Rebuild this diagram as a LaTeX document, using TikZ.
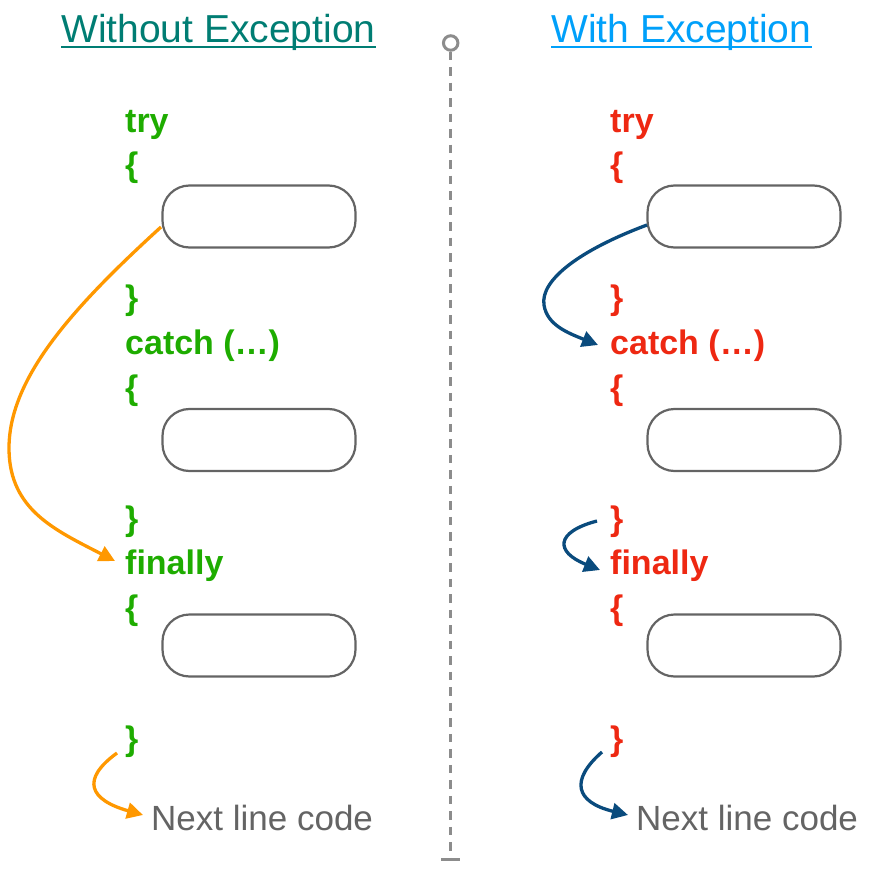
\documentclass[tikz,border=0pt]{standalone}
\usepackage{fontspec}
\setmainfont{Liberation Sans}
\usetikzlibrary{arrows.meta}
\definecolor{teal1}{RGB}{0,125,115}
\definecolor{skyb}{RGB}{0,160,250}
\definecolor{grn}{RGB}{30,172,0}
\definecolor{rd}{RGB}{238,40,18}
\definecolor{org}{RGB}{255,152,0}
\definecolor{navy}{RGB}{10,75,125}
\definecolor{dgray}{RGB}{100,100,100}
\definecolor{lgray}{RGB}{140,140,140}
\begin{document}
\begin{tikzpicture}[x=1pt,y=-1pt,
  title/.style={inner sep=0pt,anchor=base west,font=\fontsize{39}{44}\selectfont},
  codeL/.style={inner sep=0pt,anchor=base west,text=grn,font=\bfseries\fontsize{34}{40}\selectfont},
  codeR/.style={inner sep=0pt,anchor=base west,text=rd,font=\bfseries\fontsize{34}{40}\selectfont},
  nextln/.style={inner sep=0pt,anchor=base west,text=dgray,font=\fontsize{35}{40}\selectfont},
  blk/.style={draw=dgray,line width=2.2pt,rounded corners=27pt,minimum width=193pt,minimum height=62pt,inner sep=0pt},
  flowO/.style={draw=org,line width=3.3pt,-{Triangle[length=16pt,width=16pt]}},
  flowB/.style={draw=navy,line width=3.3pt,-{Triangle[length=16pt,width=16pt]}},
]
\useasboundingbox (0,0) rectangle (870,869);
% titles
\node[title,text=teal1] (tl) at (61,43) {Without Exception};
\draw[teal1,line width=2pt] ([yshift=-4pt]tl.base west) -- ([yshift=-4pt]tl.base east);
\node[title,text=skyb] (tr) at (551,43) {With Exception};
\draw[skyb,line width=2pt] ([yshift=-4pt]tr.base west) -- ([yshift=-4pt]tr.base east);
% divider
\node[draw=lgray,line width=3pt,circle,minimum size=14.5pt,inner sep=0pt] (dtop) at (450.7,43) {};
\coordinate (dbot) at (450.7,859.5);
\draw[lgray,line width=3.5pt,dash pattern=on 8.5pt off 7pt] (dtop.south) -- (dbot);
\draw[lgray,line width=3.5pt] ([xshift=-9.5pt]dbot) -- ([xshift=9.5pt]dbot);
% left column
\node[codeL] (tryL) at (125,133) {try};
\node[codeL] (ob1L) at (125,177) {\{};
\node[blk] (b1L) at (259,216.5) {};
\node[codeL] (cb1L) at (125,309) {\}};
\node[codeL] (catL) at (125,354) {catch (…)};
\node[codeL] (ob2L) at (125,399) {\{};
\node[blk] (b2L) at (259,440) {};
\node[codeL] (cb2L) at (125,530) {\}};
\node[codeL] (finL) at (125,574) {finally};
\node[codeL] (ob3L) at (125,619) {\{};
\node[blk] (b3L) at (259,645.5) {};
\node[codeL] (cb3L) at (125,750) {\}};
\node[nextln] (nxL) at (151,830) {Next line code};
% right column
\node[codeR] (tryR) at (610,133) {try};
\node[codeR] (ob1R) at (610,177) {\{};
\node[blk] (b1R) at (744,216.5) {};
\node[codeR] (cb1R) at (610,309) {\}};
\node[codeR] (catR) at (610,354) {catch (…)};
\node[codeR] (ob2R) at (610,399) {\{};
\node[blk] (b2R) at (744,440) {};
\node[codeR] (cb2R) at (610,530) {\}};
\node[codeR] (finR) at (610,574) {finally};
\node[codeR] (ob3R) at (610,619) {\{};
\node[blk] (b3R) at (744,645.5) {};
\node[codeR] (cb3R) at (610,750) {\}};
\node[nextln] (nxR) at (636,830) {Next line code};
% arrow endpoints
\coordinate (oS) at (161,227);
\coordinate (oM) at (9,450);
\coordinate (oE) at (115,561);
\coordinate (o2S) at (117,753);
\coordinate (o2E) at (143,815);
\coordinate (bS) at (647,225);
\coordinate (bM) at (544,305);
\coordinate (bE) at (598,345);
\coordinate (b2S) at (597,521);
\coordinate (b2E) at (600,570);
\coordinate (b3S) at (602,752);
\coordinate (b3E) at (628,815);
% arrows left
\draw[flowO] (oS) .. controls (70,310) and (8,380) .. (oM) .. controls (10,510) and (55,530) .. (oE);
\draw[flowO] (o2S) .. controls (80,780) and (90,800) .. (o2E);
% arrows right
\draw[flowB] (bS) .. controls (580,250) and (540,280) .. (bM) .. controls (547,325) and (568,333) .. (bE);
\draw[flowB] (b2S) .. controls (555,532) and (555,552) .. (b2E);
\draw[flowB] (b3S) .. controls (570,780) and (575,802) .. (b3E);
\end{tikzpicture}
\end{document}
